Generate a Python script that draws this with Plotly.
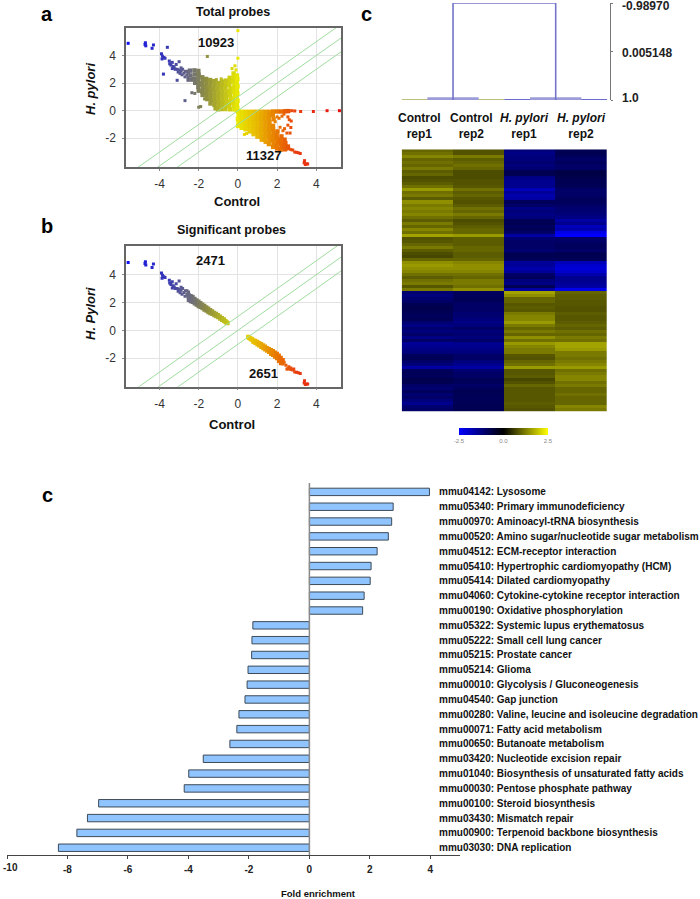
import plotly.graph_objects as go

# ---------- scatter data (control, H. pylori) ----------
tail_up = [(-5.6,4.88),(-4.72,4.92),(-4.74,4.8),(-4.7,4.7),(-4.31,4.76),(-4.38,4.52),(-3.9,4.12),(-3.85,3.95),
           (-3.78,3.85),(-3.87,3.75),(-3.72,3.8),(-3.5,3.6),(-3.48,3.4),(-3.42,3.3),(-3.35,3.5),(-3.3,3.2),
           (-3.25,3.12),(-3.15,3.35),(-3.1,3.0),(-3.0,3.55),(-3.0,2.95),(-2.9,2.88),(-2.82,3.0),(-2.75,2.72),
           (-2.68,2.85),(-2.6,2.6),(-2.52,2.75),(-3.2,3.0),(-3.05,2.8),(-2.95,2.7),(-2.85,2.6),(-2.7,2.45),
           (-2.6,2.85),(-2.55,2.4),(-3.35,3.05),(-2.9,3.1)]
a_extra_up = [(-3.6,4.59),(-1.56,3.93),(0.0,5.8),(0.0,3.8),(-3.8,2.65),(-3.1,2.2),(-2.7,0.73),(-1.9,0.3),(-2.0,0.25),
              (-0.1,2.95),(-0.3,3.05),(-0.15,3.25),(-2.55,2.2),(-2.35,1.3),(-2.2,1.25),(-1.7,0.85),(-1.1,2.25),(-0.85,2.3)]
a_dense_up = [(-2.45,2.9),(-2.42,2.55),(-2.38,2.25),(-2.22,2.92),(-2.2,2.62),(-2.24,2.3),(-2.18,2.02),
              (-2.02,2.88),(-2.0,2.6),(-2.04,2.28),(-1.98,2.0),(-2.02,1.72),(-2.0,1.45),
              (-1.82,2.42),(-1.8,2.15),(-1.84,1.88),(-1.78,1.62),(-1.82,1.38),(-1.8,1.14),
              (-1.62,2.3),(-1.6,2.05),(-1.64,1.8),(-1.58,1.55),(-1.62,1.3),(-1.6,1.05),(-1.56,0.84),
              (-1.42,2.22),(-1.4,1.98),(-1.44,1.74),(-1.38,1.5),(-1.42,1.26),(-1.4,1.02),(-1.36,0.76),(-1.4,0.52),
              (-1.22,2.14),(-1.2,1.9),(-1.24,1.66),(-1.18,1.42),(-1.22,1.16),(-1.2,0.92),(-1.16,0.66),(-1.2,0.42),(-1.14,0.18),
              (-1.02,2.0),(-1.0,1.82),(-1.04,1.58),(-0.98,1.34),(-1.02,1.1),(-1.0,0.86),(-0.96,0.6),(-1.0,0.36),(-1.02,0.1),
              (-0.82,2.1),(-0.8,1.88),(-0.84,1.64),(-0.78,1.4),(-0.82,1.16),(-0.8,0.9),(-0.76,0.66),(-0.8,0.4),(-0.84,0.12),
              (-0.62,2.18),(-0.6,1.92),(-0.64,1.66),(-0.58,1.42),(-0.62,1.16),(-0.6,0.92),(-0.56,0.66),(-0.6,0.4),(-0.64,0.12),
              (-0.42,2.38),(-0.4,2.1),(-0.44,1.86),(-0.38,1.6),(-0.42,1.36),(-0.4,1.1),(-0.36,0.86),(-0.4,0.6),(-0.44,0.34),(-0.4,0.1),
              (-0.22,2.7),(-0.2,2.42),(-0.24,2.16),(-0.18,1.9),(-0.22,1.64),(-0.2,1.38),(-0.16,1.12),(-0.2,0.86),(-0.24,0.6),(-0.2,0.36),(-0.18,0.1),
              (-0.05,2.55),(-0.03,2.28),(-0.06,2.02),(-0.02,1.76),(-0.05,1.5),(-0.03,1.24),(-0.06,0.98),(-0.02,0.72),(-0.05,0.46),(-0.03,0.2),(-0.06,0.04)]

tail_down = [(2.7,-2.82),(2.6,-2.75),(2.5,-2.78),(2.8,-2.85),(2.9,-3.0),(3.0,-3.02),(3.08,-3.05),(3.18,-3.1),
             (3.4,-3.62),(3.5,-3.85),(3.44,-3.9),(3.56,-3.86),(3.38,-3.78)]
a_extra_down = [(2.62,-0.02),(2.75,0.0),(2.9,-0.02),(3.2,-0.06),(3.85,-0.06),(4.55,0.0),(5.18,0.0),(0.33,-1.72),(0.45,-1.65),
                (2.25,-0.4),(2.1,-0.55),(2.55,-0.45),(2.62,-0.65),(2.72,-0.75),(2.55,-1.05),(2.38,-1.3),(2.7,-1.22),
                (2.5,-1.62),(2.66,-1.62),(2.15,-1.2),(2.35,-0.25),(2.0,-0.45),(1.9,-0.8),(2.3,-1.45),(2.45,-2.5),(2.35,-2.42)]
a_dense_down = [(0.02,-0.08),(0.04,-0.34),(0.0,-0.6),(0.03,-0.86),(0.01,-1.1),
                (0.2,-0.08),(0.22,-0.34),(0.18,-0.58),(0.21,-0.84),(0.2,-1.08),(0.19,-1.24),
                (0.4,-0.08),(0.42,-0.32),(0.38,-0.58),(0.41,-0.82),(0.4,-1.08),(0.39,-1.34),
                (0.6,-0.08),(0.62,-0.34),(0.58,-0.6),(0.61,-0.84),(0.6,-1.1),(0.59,-1.32),(0.61,-1.5),
                (0.8,-0.08),(0.82,-0.32),(0.78,-0.56),(0.81,-0.82),(0.8,-1.06),(0.79,-1.3),(0.81,-1.52),(0.8,-1.7),
                (1.0,-0.08),(1.02,-0.32),(0.98,-0.58),(1.01,-0.82),(1.0,-1.08),(0.99,-1.34),(1.01,-1.6),(1.0,-1.88),
                (1.2,-0.08),(1.22,-0.34),(1.18,-0.6),(1.21,-0.86),(1.2,-1.12),(1.19,-1.38),(1.21,-1.64),(1.2,-1.88),(1.22,-2.1),
                (1.4,-0.08),(1.42,-0.34),(1.38,-0.6),(1.41,-0.86),(1.4,-1.12),(1.39,-1.38),(1.41,-1.64),(1.4,-1.9),(1.42,-2.25),(1.38,-2.08),
                (1.6,-0.08),(1.62,-0.32),(1.58,-0.58),(1.61,-0.84),(1.6,-1.1),(1.59,-1.36),(1.61,-1.62),(1.6,-1.88),(1.62,-2.14),(1.58,-2.42),
                (1.8,-0.06),(1.78,-0.3),(1.82,-0.62),(1.79,-1.1),(1.8,-1.36),(1.82,-1.62),(1.78,-1.88),(1.8,-2.14),(1.82,-2.4),(1.8,-2.62),
                (2.0,-0.06),(2.02,-1.5),(1.98,-1.76),(2.0,-2.02),(2.02,-2.28),(1.98,-2.54),(2.0,-2.74),
                (2.2,-0.06),(2.22,-1.86),(2.18,-2.12),(2.2,-2.38),(2.22,-2.62),(2.18,-2.82),
                (2.4,-0.04),(2.38,-2.1),(2.42,-2.34),(2.36,-2.62),(2.4,-2.8),(2.55,-2.6),(2.55,-0.03)]

b_dense_up = [(-0.53,0.52),(-0.58,0.56),(-0.62,0.62),(-0.66,0.66),(-0.7,0.68),(-0.72,0.78),(-0.8,0.75),(-0.82,0.88),
              (-0.9,0.85),(-0.92,0.98),(-1.0,0.95),(-1.02,1.08),(-1.1,1.02),(-1.12,1.18),(-1.2,1.1),(-1.22,1.25),
              (-1.3,1.18),(-1.32,1.35),(-1.4,1.25),(-1.42,1.45),(-1.5,1.32),(-1.52,1.55),(-1.6,1.42),(-1.62,1.65),
              (-1.7,1.5),(-1.72,1.75),(-1.8,1.6),(-1.82,1.85),(-1.9,1.7),(-1.92,1.95),(-2.0,1.75),(-2.02,2.05),
              (-2.1,1.85),(-2.12,2.15),(-2.2,1.95),(-2.22,2.25),(-2.3,2.05),(-2.32,2.4),(-2.4,2.1),(-2.42,2.45),
              (-2.5,2.2),(-2.52,2.55)]
b_dense_down = [(0.53,-0.48),(0.58,-0.54),(0.62,-0.58),(0.68,-0.62),(0.72,-0.66),(0.78,-0.72),(0.8,-0.82),(0.88,-0.76),
                (0.9,-0.9),(0.98,-0.84),(1.0,-1.0),(1.08,-0.92),(1.1,-1.08),(1.18,-1.0),(1.2,-1.18),(1.28,-1.08),
                (1.3,-1.28),(1.38,-1.18),(1.4,-1.36),(1.48,-1.28),(1.5,-1.46),(1.58,-1.36),(1.6,-1.55),(1.68,-1.42),
                (1.7,-1.68),(1.78,-1.5),(1.8,-1.75),(1.88,-1.6),(1.9,-1.88),(1.98,-1.7),(2.0,-2.0),(2.08,-1.82),
                (2.1,-2.18),(2.18,-1.98),(2.2,-2.35),(2.28,-2.15)]
b_sparse_down = [(2.3,-2.42),(2.36,-2.3),(2.45,-2.5),(2.6,-2.62),(2.7,-2.7),(2.55,-2.78),(2.85,-2.78)]

a_sparse = tail_up + a_extra_up + a_extra_down + tail_down
a_dense = a_dense_up + a_dense_down
b_sparse = tail_up + b_sparse_down + tail_down
b_dense = b_dense_up + b_dense_down
fold_lines = [1, 0, -1]

# ---------- heatmap rows, top to bottom: Control rep1, Control rep2, H. pylori rep1, H. pylori rep2 ----------
samples = ["Control rep1", "Control rep2", "H. pylori rep1", "H. pylori rep2"]
heat_upper = [[1.0,0.8,-1.2,-0.8],[1.1,0.8,-1.3,-0.8],[1.3,1.2,-1.2,-0.9],[1.0,0.9,-1.2,-1.0],[1.1,1.0,-1.1,-0.9],
              [1.0,1.1,-1.2,-1.0],[1.2,1.0,-1.1,-1.0],[0.9,0.75,-0.8,-0.7],[1.0,0.75,-0.8,-0.7],[0.75,0.75,-1.3,-0.75],
              [0.8,0.8,-1.4,-0.8],[0.9,0.8,-1.4,-0.8],[1.1,0.85,-1.4,-0.85],[1.5,1.1,-1.8,-1.0],[1.1,0.9,-1.5,-1.0],
              [1.2,1.0,-1.7,-1.0],[0.9,0.85,-1.6,-0.9],[1.4,0.8,-0.9,-0.9],[1.2,0.9,-1.0,-1.0],[1.3,1.1,-1.3,-1.1],
              [1.2,1.0,-1.2,-1.1],[1.3,1.2,-1.3,-1.2],[1.1,1.0,-1.2,-1.3],[0.9,0.75,-0.85,-1.6],[1.2,0.8,-0.8,-1.4],
              [1.0,0.9,-0.9,-1.8],[1.3,1.0,-0.85,-1.7],[1.1,1.0,-1.0,-2.3],[1.6,1.5,-1.6,-2.5],[0.8,0.9,-1.1,-1.0],
              [0.85,0.9,-1.0,-1.0],[1.0,0.9,-1.0,-0.9],[1.2,1.0,-1.0,-0.9],[0.9,1.0,-1.1,-1.0],[0.75,0.9,-0.85,-0.8],
              [0.7,0.9,-0.8,-0.8],[1.0,1.0,-0.9,-0.85],[1.4,1.3,-1.5,-1.8],[1.5,1.4,-1.5,-2.0],[1.4,1.4,-1.7,-2.1],
              [1.3,1.3,-1.5,-2.0],[1.1,1.1,-1.0,-1.7],[0.9,1.0,-0.9,-1.4],[1.1,1.2,-1.2,-1.4],[1.2,1.2,-1.3,-1.5],
              [0.85,1.1,-0.85,-1.6],[1.2,1.4,-1.6,-2.3]]
heat_lower = [[-1.1,-0.9,1.6,1.0],[-1.2,-0.9,1.4,0.9],[-1.1,-0.85,1.0,0.9],[-1.0,-0.9,1.0,0.85],[-0.8,-1.0,0.85,0.85],
              [-0.75,-1.0,0.9,0.8],[-0.8,-1.0,0.85,0.8],[-0.85,-1.1,1.2,0.9],[-0.9,-1.1,1.3,0.85],[-0.85,-1.2,1.3,0.85],
              [-1.1,-1.3,1.5,0.9],[-1.3,-1.2,1.2,1.0],[-1.1,-1.0,1.0,0.9],[-1.2,-1.2,1.2,1.1],[-1.0,-1.1,1.0,1.0],
              [-1.3,-1.2,1.4,1.2],[-1.0,-1.0,1.1,1.1],[-1.5,-1.4,1.5,1.6],[-1.4,-1.4,1.3,1.6],[-1.3,-1.3,1.2,1.5],
              [-1.2,-1.2,1.2,1.2],[-0.9,-1.0,0.85,1.2],[-0.85,-1.0,0.8,1.1],[-1.0,-1.2,1.0,1.2],[-1.2,-1.4,1.1,1.3],
              [-1.6,-1.6,1.5,1.5],[-0.9,-1.1,0.85,1.1],[-0.85,-1.0,0.85,1.2],[-0.9,-1.0,0.9,1.3],[-0.75,-0.85,0.7,1.3],
              [-0.8,-0.9,0.8,1.1],[-1.0,-1.0,1.0,1.2],[-1.1,-0.9,0.85,1.0],[-0.9,-0.8,0.85,1.0],[-1.1,-0.85,0.85,1.1],
              [-1.0,-0.85,0.85,1.0],[-1.2,-0.85,0.85,1.0],[-1.4,-0.85,0.9,1.0],[-1.1,-0.8,0.85,1.3],[-1.0,-0.8,0.8,1.2]]
heat_rows = heat_upper + heat_lower

# ---------- dendrogram ----------
dendro_link_x = [0.5, 0.5, 2.5, 2.5]
dendro_link_y = [1.0, -0.9897, -0.9897, 1.0]
dendro_tick_vals = [-0.9897, 0.005148, 1.0]
dendro_tick_text = ["-0.98970", "0.005148", "1.0"]

# ---------- KEGG enrichment ----------
pathways = ["mmu04142: Lysosome", "mmu05340: Primary immunodeficiency", "mmu00970: Aminoacyl-tRNA biosynthesis",
            "mmu00520: Amino sugar/nucleotide sugar metabolism", "mmu04512: ECM-receptor interaction",
            "mmu05410: Hypertrophic cardiomyopathy (HCM)", "mmu05414: Dilated cardiomyopathy",
            "mmu04060: Cytokine-cytokine receptor interaction", "mmu00190: Oxidative phosphorylation",
            "mmu05322: Systemic lupus erythematosus", "mmu05222: Small cell lung cancer", "mmu05215: Prostate cancer",
            "mmu05214: Glioma", "mmu00010: Glycolysis / Gluconeogenesis", "mmu04540: Gap junction",
            "mmu00280: Valine, leucine and isoleucine degradation", "mmu00071: Fatty acid metabolism",
            "mmu00650: Butanoate metabolism", "mmu03420: Nucleotide excision repair",
            "mmu01040: Biosynthesis of unsaturated fatty acids", "mmu00030: Pentose phosphate pathway",
            "mmu00100: Steroid biosynthesis", "mmu03430: Mismatch repair", "mmu00900: Terpenoid backbone biosynthesis",
            "mmu03030: DNA replication"]
fold = [3.97, 2.77, 2.72, 2.61, 2.24, 2.04, 2.01, 1.81, 1.76, -1.87, -1.90, -1.91, -2.03, -2.06, -2.13, -2.33,
        -2.40, -2.63, -3.51, -3.99, -4.14, -6.97, -7.34, -7.69, -8.30]

scatter_ticks_x = [-4, -2, 0, 2, 4]
scatter_ticks_y = [-2, 0, 2, 4]
bar_ticks = [-10, -8, -6, -4, -2, 0, 2, 4]

# ---------- layout helpers ----------
W, H = 700, 899
SANS = "Liberation Sans, Arial, sans-serif"
def dx(a, b): return [a / W, b / W]
def dy(top, bottom): return [1 - bottom / H, 1 - top / H]
def px(v): return v / W
def py(v): return 1 - v / H

probe_scale = [[0.0, "#1010f0"], [0.194, "#3a3ab0"], [0.287, "#6a6a80"], [0.37, "#8f8f40"], [0.444, "#baba20"],
               [0.5185, "#e8e800"], [0.611, "#e8b800"], [0.704, "#e87800"], [0.796, "#e83c10"], [1.0, "#e81010"]]

fig = go.Figure()
def add_marks(pts, size, xa, ya):
    xs = [p[0] for p in pts]
    ys = [p[1] for p in pts]
    fig.add_trace(go.Scatter(x=xs, y=ys, xaxis=xa, yaxis=ya, mode="markers", showlegend=False,
                             marker=dict(size=size, symbol="square", color=xs, colorscale=probe_scale,
                                         cmin=-5.6, cmax=5.2, line=dict(width=0))))
for sparse, dense, xa, ya in [(a_sparse, a_dense, "x", "y"), (b_sparse, b_dense, "x2", "y2")]:
    add_marks(sparse, 3, xa, ya)
    add_marks(dense, 4.4, xa, ya)
    for off in fold_lines:
        ends = [-8, 8]
        fig.add_trace(go.Scatter(x=ends, y=[e + off for e in ends], xaxis=xa, yaxis=ya, mode="lines",
                                 showlegend=False, line=dict(color="#9fdc9f", width=1)))

fig.add_trace(go.Heatmap(z=heat_rows, x=[0, 1, 2, 3], y=list(range(len(heat_rows))), xaxis="x3", yaxis="y3",
                         zmin=-2.5, zmax=2.5, colorscale=[[0, "#0000ff"], [0.5, "#000000"], [1, "#ffff00"]],
                         colorbar=dict(orientation="h", x=px(503.5), xanchor="center", y=py(426), yanchor="top",
                                       thickness=7, thicknessmode="pixels", len=89, lenmode="pixels",
                                       tickvals=[-2.5, 0, 2.5], ticktext=["-2.5", "0.0", "2.5"],
                                       tickfont=dict(size=6, color="#888888", family=SANS), ticks="",
                                       outlinewidth=0, xpad=0, ypad=2)))

# dendrogram: leaf baselines, leaf pairs and the top link
for xs, ys, col, wid in [([-0.5, 1.5], [1.0, 1.0], "#a9a94f", 1.5),
                         ([1.5, 3.5], [1.0, 1.0], "#3c3cc0", 1.5),
                         ([0.0, 1.0], [0.975, 0.975], "#9c9cd8", 3),
                         ([2.0, 3.0], [0.975, 0.975], "#9c9cd8", 3)]:
    fig.add_trace(go.Scatter(x=xs, y=ys, xaxis="x4", yaxis="y4", mode="lines", showlegend=False, cliponaxis=False,
                             line=dict(color=col, width=wid)))
fig.add_trace(go.Scatter(x=dendro_link_x, y=dendro_link_y, xaxis="x4", yaxis="y4", mode="lines", showlegend=False,
                         cliponaxis=False, line=dict(color="#7474c8", width=1.6)))

fig.add_trace(go.Bar(x=fold, y=pathways, orientation="h", xaxis="x5", yaxis="y5", showlegend=False, width=0.5,
                     marker=dict(color="#90c4ff", line=dict(color="#3c4a58", width=1))))

def scatter_x(dom, standoff):
    return dict(domain=dom, range=[-5.71, 5.26], tickvals=scatter_ticks_x, ticktext=[str(t) for t in scatter_ticks_x],
                showgrid=True, gridcolor="#e3e3e3", gridwidth=1, zeroline=False, showline=True, mirror=True,
                linecolor="#666666", linewidth=1.5, ticks="outside", ticklen=2, tickcolor="#888888",
                ticklabelstandoff=standoff, tickfont=dict(size=12, color="#333333", family=SANS))
def scatter_y(dom, rng):
    return dict(domain=dom, range=rng, tickvals=scatter_ticks_y, ticktext=[str(t) for t in scatter_ticks_y],
                showgrid=True, gridcolor="#e3e3e3", gridwidth=1, zeroline=False, showline=True, mirror=True,
                linecolor="#666666", linewidth=1.5, ticks="outside", ticklen=2, tickcolor="#888888",
                ticklabelstandoff=4, tickfont=dict(size=12, color="#333333", family=SANS))

hidden = dict(showgrid=False, zeroline=False, showticklabels=False, ticks="", showline=False)

# the -10 label would overflow the page edge, so it is written as a text beside the axis
bar_labels = ["" if t == -10 else str(t) for t in bar_ticks]

layout = dict(
    width=W, height=H, margin=dict(l=0, r=0, t=0, b=0, autoexpand=False), autosize=False,
    paper_bgcolor="white", plot_bgcolor="white", bargap=0.5, font=dict(family=SANS),
    xaxis=dict(**scatter_x(dx(126, 341), 3), anchor="y"),
    yaxis=dict(**scatter_y(dy(28, 167), [-4.08, 5.99]), anchor="x"),
    xaxis2=dict(**scatter_x(dx(126, 341), 3), anchor="y2"),
    yaxis2=dict(**scatter_y(dy(246, 386.7), [-4.05, 6.06]), anchor="x2"),
    xaxis3=dict(domain=dx(401.7, 607), range=[-0.5, 3.5], anchor="y3", **hidden),
    yaxis3=dict(domain=dy(149.3, 411.7), range=[len(heat_rows) - 0.5, -0.5], anchor="x3", **hidden),
    xaxis4=dict(domain=dx(401.7, 610), range=[-0.5, 3.558], anchor="y4", **hidden),
    yaxis4=dict(domain=dy(3, 100), range=[1.0, -0.9897], anchor="x4", side="right", tickvals=dendro_tick_vals,
                showticklabels=False, showgrid=False, zeroline=False, showline=True, linecolor="#777777",
                linewidth=1, ticks="outside", ticklen=2, tickcolor="#777777"),
    xaxis5=dict(domain=dx(7, 460), range=[-10, 4.98], anchor="y5", tickvals=bar_ticks,
                ticktext=bar_labels, showgrid=False, zeroline=False, showline=True,
                linecolor="#444444", linewidth=1, ticks="outside", ticklen=3, tickcolor="#444444",
                ticklabelstandoff=2, tickfont=dict(size=10, color="#222222", family=SANS, weight="bold")),
    yaxis5=dict(domain=dy(483, 855), range=[24.49, -0.6], anchor="x5", type="category", categoryorder="array",
                categoryarray=pathways, **hidden),
    shapes=[dict(type="line", xref="x5", yref="paper", x0=0, x1=0, y0=py(855), y1=py(483),
                 line=dict(color="#8a8a8a", width=1.5))],
)

ann = []
def text(s, x, y, size, bold=True, color="#111111", **kw):
    ann.append(dict(text=("<b>%s</b>" % s) if bold else s, x=px(x), y=py(y), xref="paper", yref="paper",
                    showarrow=False, font=dict(size=size, color=color, family=SANS), xanchor=kw.pop("xanchor", "center"),
                    yanchor="middle", align="center", **kw))

text("a", 47, 14, 20, color="#000000"); text("b", 47, 226, 20, color="#000000")
text("c", 367, 14, 20, color="#000000"); text("c", 47, 495, 20, color="#000000")
text("Total probes", 233, 12, 12.5); text("Significant probes", 231, 230, 12.5)
text("10923", 216, 42, 13); text("11327", 263, 155, 13)
text("2471", 210, 261, 13); text("2651", 263, 373, 13)
text("Control", 237, 201, 13); text("Control", 232, 424, 13)
text("<i>H. pylori</i>", 90, 89, 13, textangle=-90); text("<i>H. Pylori</i>", 90, 313, 13, textangle=-90)
text("Control<br>rep1", 419, 126, 12); text("Control<br>rep2", 471, 126, 12)
text("<i>H. pylori</i><br>rep1", 524, 126, 12); text("<i>H. pylori</i><br>rep2", 581, 126, 12)
text("Fold enrichment", 318, 893, 9.5)
text("-10", 1, 867, 10, color="#222222", xanchor="left")
for label, ypos in zip(dendro_tick_text, [6, 52.7, 97.7]):
    text(label, 620, ypos, 12, color="#222222", xanchor="left")
for name in pathways:
    ann.append(dict(text="<b>%s</b>" % name, x=4.22, y=name, xref="x5", yref="y5", showarrow=False, xanchor="left",
                    yanchor="middle", font=dict(size=10, color="#111111", family=SANS)))
layout["annotations"] = ann
fig.update_layout(**layout)
fig.write_html("out.html", config={"displayModeBar": False}, post_script="document.body.style.margin='0';")
